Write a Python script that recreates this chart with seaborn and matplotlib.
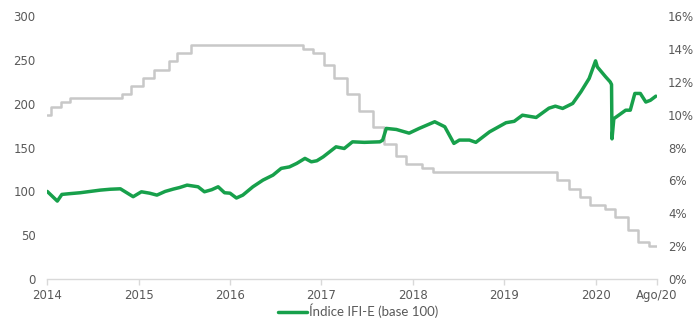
import matplotlib
matplotlib.use("Agg")
import matplotlib.pyplot as plt
import seaborn as sns
import pandas as pd

# IFI-E index (base 100), decimal year vs. value
ifi_t = [2014.00, 2014.03, 2014.11, 2014.16, 2014.25, 2014.36, 2014.47, 2014.58,
         2014.69, 2014.80, 2014.87, 2014.94, 2015.03, 2015.12, 2015.20, 2015.29,
         2015.38, 2015.45, 2015.53, 2015.65, 2015.72, 2015.80, 2015.87, 2015.94,
         2016.00, 2016.07, 2016.14, 2016.25, 2016.36, 2016.47, 2016.56, 2016.65,
         2016.73, 2016.82, 2016.89, 2016.95, 2017.02, 2017.16, 2017.25, 2017.34,
         2017.47, 2017.64, 2017.67, 2017.71, 2017.82, 2017.96, 2018.07, 2018.24,
         2018.35, 2018.45, 2018.51, 2018.62, 2018.69, 2018.84, 2019.02, 2019.11,
         2019.20, 2019.35, 2019.49, 2019.56, 2019.64, 2019.75, 2019.84, 2019.93,
         2020.00, 2020.02, 2020.11, 2020.16, 2020.175, 2020.18, 2020.20, 2020.33,
         2020.38, 2020.43, 2020.49, 2020.55, 2020.60, 2020.66]
ifi_v = [100, 97, 89, 96.6, 97.5, 98.5, 100, 101.5,
         102.5, 103, 98.5, 94, 99.6, 98, 95.8, 100,
         102.7, 104.5, 107.2, 105.3, 99.6, 102, 105.3, 98.5,
         98, 92.5, 95.8, 105.3, 112.9, 118.6, 126.3, 128,
         132, 137.7, 133.8, 135, 139.5, 150.9, 149, 156.6,
         156, 156.6, 158.5, 171.9, 170.7, 166.5, 171.9, 179.5,
         173.8, 154.8, 158.6, 158.6, 156, 168, 178.4, 180,
         187, 184.4, 195, 197.3, 194.7, 200.4, 213.7, 228.9,
         249, 242, 230.8, 225, 222, 160, 183, 192.7,
         192.7, 211.8, 211.8, 202, 204, 208.7]

# Selic policy rate (% p.a.), step changes
selic_t = [2014.00, 2014.04, 2014.15, 2014.25, 2014.82, 2014.92, 2015.05, 2015.17,
           2015.33, 2015.42, 2015.57, 2016.80, 2016.91, 2017.03, 2017.14, 2017.28,
           2017.41, 2017.57, 2017.68, 2017.82, 2017.93, 2018.10, 2018.22, 2019.58,
           2019.71, 2019.83, 2019.94, 2020.10, 2020.21, 2020.35, 2020.46, 2020.59,
           2020.67]
selic_v = [10.0, 10.5, 10.75, 11.0, 11.25, 11.75, 12.25, 12.75,
           13.25, 13.75, 14.25, 14.0, 13.75, 13.0, 12.25, 11.25,
           10.25, 9.25, 8.25, 7.5, 7.0, 6.75, 6.5, 6.0,
           5.5, 5.0, 4.5, 4.25, 3.75, 3.0, 2.25, 2.0,
           2.0]

x_ticks = [2014, 2015, 2016, 2017, 2018, 2019, 2020, 2020.67]
x_labels = ["2014", "2015", "2016", "2017", "2018", "2019", "2020", "Ago/20"]

ifi = pd.DataFrame({"t": ifi_t, "v": ifi_v})
selic = pd.DataFrame({"t": selic_t, "v": selic_v})

sns.set_theme(style="white")
plt.rcParams["font.family"] = ["DejaVu Sans"]

green = "#17a04b"
gray_line = "#c8c8c8"
txt = "#595959"

fig = plt.figure(figsize=(6.95, 3.23), dpi=100)
ax = fig.add_axes([0.068, 0.136, 0.877, 0.814])
ax2 = ax.twinx()

sns.lineplot(data=selic, x="t", y="v", ax=ax2, color=gray_line, linewidth=1.8,
             drawstyle="steps-post")
sns.lineplot(data=ifi, x="t", y="v", ax=ax, color=green, linewidth=2.5,
             label="Índice IFI-E (base 100)")

ax.set_zorder(ax2.get_zorder() + 1)
ax.patch.set_visible(False)

ax.set_xlim(2014, 2020.67)
ax.set_ylim(0, 300)
ax2.set_ylim(0, 16)
ax.set_yticks(range(0, 301, 50))
ax2.set_yticks(range(0, 17, 2))
ax2.set_yticklabels([f"{v}%" for v in range(0, 17, 2)])
ax.set_xticks(x_ticks)
ax.set_xticklabels(x_labels)

for a in (ax, ax2):
    a.set_xlabel("")
    a.set_ylabel("")
    for s in a.spines.values():
        s.set_visible(False)
ax.spines["bottom"].set_visible(True)
ax.spines["bottom"].set_color("#d9d9d9")
ax.spines["bottom"].set_linewidth(1.0)

ax.tick_params(axis="x", bottom=True, length=4, width=1, color="#d9d9d9",
               labelsize=8.5, labelcolor=txt, pad=3)
ax.tick_params(axis="y", left=False, length=0, labelsize=8.5, labelcolor=txt, pad=8.5)
ax2.tick_params(axis="y", right=False, length=0, labelsize=8.5, labelcolor=txt, pad=8)

ax.get_legend().remove()
handles, labels = ax.get_legend_handles_labels()
fig.legend(handles, labels, loc="center", bbox_to_anchor=(0.515, 0.037),
           frameon=False, handlelength=2.2, handletextpad=0.15,
           labelcolor=txt, prop={"family": "Lato", "size": 9.5})

fig.savefig("out.png", dpi=100)
